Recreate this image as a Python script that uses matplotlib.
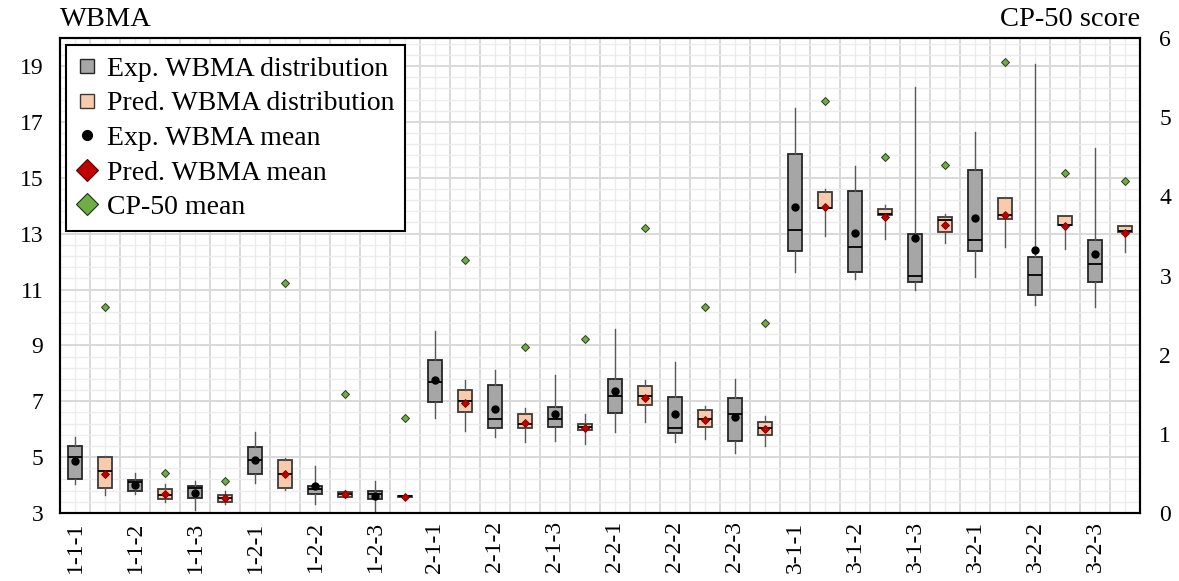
import numpy as np
import matplotlib
matplotlib.use("Agg")
import matplotlib.pyplot as plt
from matplotlib.lines import Line2D

plt.rcParams["font.family"] = ["Liberation Serif", "DejaVu Serif"]

# group labels (one per experimental / predicted pair)
groups = ["1-1-1", "1-1-2", "1-1-3", "1-2-1", "1-2-2", "1-2-3",
          "2-1-1", "2-1-2", "2-1-3", "2-2-1", "2-2-2", "2-2-3",
          "3-1-1", "3-1-2", "3-1-3", "3-2-1", "3-2-2", "3-2-3"]

# experimental WBMA distribution
exp_lo   = [4.05, 3.69, 3.10, 4.09, 3.33, 3.05, 6.39, 5.71, 5.56, 5.91, 5.53, 5.15,
            11.62, 11.38, 10.99, 11.43, 10.45, 10.36]
exp_q1   = [4.23, 3.79, 3.55, 4.39, 3.67, 3.49, 6.99, 6.03, 6.09, 6.59, 5.85, 5.58,
            12.39, 11.62, 11.28, 12.39, 10.79, 11.26]
exp_med  = [4.99, 4.10, 3.89, 4.91, 3.85, 3.67, 7.69, 6.35, 6.35, 7.20, 6.05, 6.54,
            13.12, 12.51, 11.50, 12.78, 11.53, 11.92]
exp_q3   = [5.41, 4.18, 3.97, 5.37, 3.97, 3.79, 8.47, 7.57, 6.81, 7.80, 7.15, 7.11,
            15.85, 14.51, 12.99, 15.29, 12.16, 12.78]
exp_hi   = [5.71, 4.45, 4.13, 5.89, 4.69, 4.13, 9.52, 8.13, 7.93, 9.58, 8.40, 7.80,
            17.49, 15.42, 18.24, 16.62, 19.08, 16.08]
exp_mean = [4.87, 4.01, 3.73, 4.91, 3.97, 3.61, 7.77, 6.71, 6.53, 7.36, 6.54, 6.42,
            13.96, 13.04, 12.85, 13.55, 12.42, 12.27]

# predicted WBMA distribution
pred_lo   = [3.65, 3.40, 3.31, 3.82, 3.53, 3.56, 5.95, 5.53, 5.47, 6.25, 5.65, 5.41,
             12.90, 12.81, 12.67, 12.52, 12.46, 12.34]
pred_q1   = [3.91, 3.49, 3.40, 3.91, 3.58, 3.58, 6.63, 6.05, 5.97, 6.87, 6.09, 5.81,
             13.90, 13.66, 13.06, 13.53, 13.30, 13.05]
pred_med  = [4.49, 3.65, 3.55, 4.39, 3.67, 3.60, 7.00, 6.19, 6.07, 7.18, 6.37, 6.03,
             13.90, 13.72, 13.48, 13.68, 13.32, 13.08]
pred_q3   = [4.99, 3.87, 3.65, 4.91, 3.76, 3.62, 7.41, 6.55, 6.17, 7.56, 6.69, 6.25,
             14.49, 13.87, 13.60, 14.27, 13.62, 13.28]
pred_hi   = [5.05, 4.03, 3.79, 4.97, 3.82, 3.63, 7.75, 6.77, 6.53, 7.77, 6.84, 6.46,
             14.61, 14.03, 13.72, 14.32, 13.62, 13.30]
pred_mean = [4.41, 3.69, 3.55, 4.39, 3.67, 3.59, 6.95, 6.23, 6.05, 7.12, 6.33, 6.00,
             13.96, 13.61, 13.30, 13.66, 13.26, 13.03]

# CP-50 mean score (right axis)
cp50 = [2.6, 0.5, 0.4, 2.9, 1.5, 1.2, 3.2, 2.1, 2.2, 3.6, 2.6, 2.4,
        5.2, 4.5, 4.4, 5.7, 4.3, 4.2]


def stats(lo, q1, med, q3, hi):
    return [dict(whislo=a, q1=b, med=c, q3=d, whishi=e, fliers=[])
            for a, b, c, d, e in zip(lo, q1, med, q3, hi)]


n = len(groups)
pos_exp  = np.arange(n) * 2 + 0.5
pos_pred = np.arange(n) * 2 + 1.5

fig = plt.figure(figsize=(11.79, 5.81), dpi=100)
ax  = fig.add_axes([0.0509, 0.117, 0.916, 0.8175])

# grid, Excel style
for x in np.arange(0, 2 * n + 0.01, 1):
    ax.axvline(x, color="#d9d9d9", lw=1.4, zorder=0)
for x in np.arange(0.5, 2 * n, 1):
    ax.axvline(x, color="#ececec", lw=1.0, zorder=0)
ax.set_yticks(np.arange(3, 20, 2))
ax.set_yticks(np.arange(3, 20.01, 0.4), minor=True)
ax.grid(True, axis="y", which="major", color="#d9d9d9", lw=1.4, zorder=0)
ax.grid(True, axis="y", which="minor", color="#ececec", lw=1.0, zorder=0)
ax.set_axisbelow(True)

box_kw = dict(widths=0.44, patch_artist=True, showfliers=False, showcaps=False,
              whiskerprops=dict(color="#595959", lw=1.0),
              medianprops=dict(color="black", lw=1.3))

ax.bxp(stats(exp_lo, exp_q1, exp_med, exp_q3, exp_hi), positions=pos_exp,
       boxprops=dict(facecolor="#a6a6a6", edgecolor="#262626", lw=1.3), **box_kw)
ax.bxp(stats(pred_lo, pred_q1, pred_med, pred_q3, pred_hi), positions=pos_pred,
       boxprops=dict(facecolor="#f8cbad", edgecolor="#3a3a3a", lw=1.3), **box_kw)

ax.plot(pos_exp, exp_mean, "o", ms=5, color="black", zorder=5)
ax.plot(pos_pred, pred_mean, "D", ms=4.4, mfc="#c00000", mec="#7a0000", mew=0.6, zorder=5)

ax.set_xlim(0, 2 * n)
ax.set_ylim(3, 20)
ax.set_xticks(pos_exp)
ax.set_xticklabels(groups, rotation=90)
ax.tick_params(axis="both", which="both", length=0, labelsize=17)
ax.tick_params(axis="y", pad=12)
ax.tick_params(axis="x", pad=6)
for s in ax.spines.values():
    s.set_color("black")
    s.set_linewidth(1.5)

ax2 = ax.twinx()
ax2.plot(pos_pred, cp50, "D", ms=4.4, mfc="#70ad47", mec="#2b3d1f", mew=0.7, zorder=5)
ax2.set_ylim(0, 6)
ax2.set_yticks(np.arange(0, 7, 1))
ax2.tick_params(axis="y", length=0, labelsize=17, pad=14)
for s in ax2.spines.values():
    s.set_color("black")
    s.set_linewidth(1.5)

ax.text(0, 1.012, "WBMA", transform=ax.transAxes, ha="left", va="bottom", fontsize=20.5)
ax.text(1, 1.012, "CP-50 score", transform=ax.transAxes, ha="right", va="bottom", fontsize=20.5)

handles = [
    Line2D([], [], ls="none", marker="s", ms=10, mfc="#a6a6a6", mec="#262626", mew=1.0),
    Line2D([], [], ls="none", marker="s", ms=10, mfc="#f8cbad", mec="#3a3a3a", mew=1.0),
    Line2D([], [], ls="none", marker="o", ms=7, color="black"),
    Line2D([], [], ls="none", marker="D", ms=11.5, mfc="#c00000", mec="#5a0000", mew=0.8),
    Line2D([], [], ls="none", marker="D", ms=11.5, mfc="#70ad47", mec="#1f2e16", mew=0.8),
]
labels = ["Exp. WBMA distribution", "Pred. WBMA distribution", "Exp. WBMA mean",
          "Pred. WBMA mean", "CP-50 mean"]
leg = ax2.legend(handles, labels, loc="upper left", bbox_to_anchor=(0.006, 0.985),
                 borderaxespad=0, fontsize=20, frameon=True, fancybox=False,
                 framealpha=1, edgecolor="black", handlelength=0.7,
                 handletextpad=0.35, labelspacing=0.33, borderpad=0.4)
leg.get_frame().set_linewidth(1.5)

fig.savefig("out.png", dpi=100)
